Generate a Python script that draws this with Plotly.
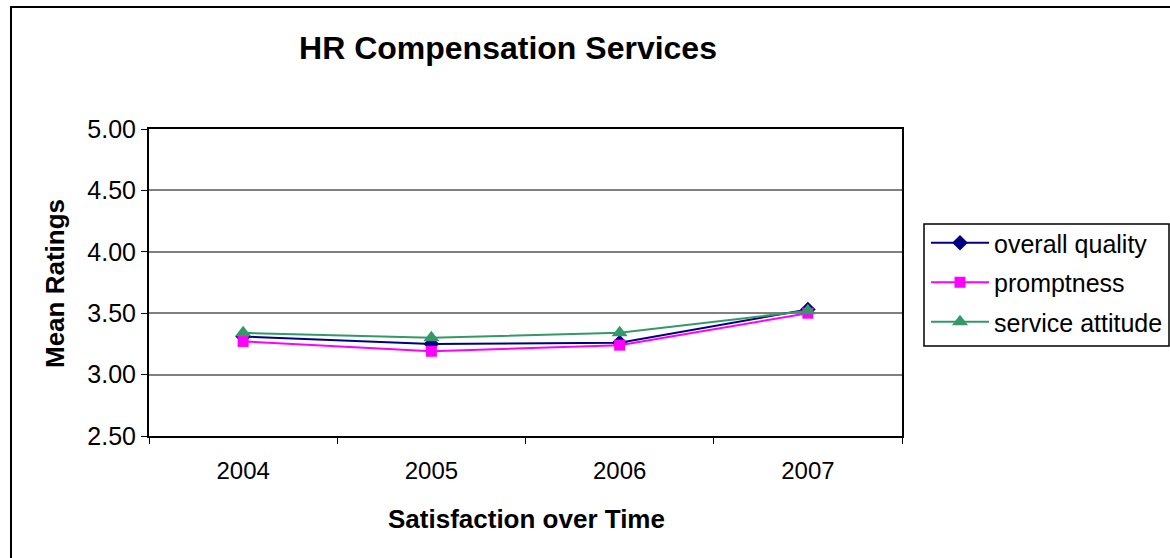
import plotly.graph_objects as go

years = ["2004", "2005", "2006", "2007"]
overall_quality = [3.31, 3.25, 3.26, 3.53]
promptness = [3.27, 3.19, 3.24, 3.50]
service_attitude = [3.34, 3.30, 3.34, 3.52]
y_ticks = [2.50, 3.00, 3.50, 4.00, 4.50, 5.00]

FONT = "Liberation Sans, Arial, sans-serif"
W, H = 1170, 558
L, R, T, B = 149, 902, 129, 436  # plot area in pixels
PW = W - L  # paper width (right margin is zero, legend sits inside paper)
ph = B - T


def px_x(x):
    return (x - L) / PW


def px_y(y):
    return (B - y) / ph


series = [
    ("overall quality", overall_quality, "#000080", "diamond", 12),
    ("promptness", promptness, "#FF00FF", "square", 11),
    ("service attitude", service_attitude, "#339966", "triangle-up", 14),
]

fig = go.Figure()
for name, vals, color, symbol, size in series:
    fig.add_trace(go.Scatter(
        x=years, y=vals, name=name, mode="lines+markers",
        legendgroup=name,
        line=dict(color=color, width=2),
        marker=dict(symbol=symbol, size=size, color=color),
    ))

fig.update_layout(
    width=W, height=H,
    margin=dict(l=L, r=0, t=T, b=H - B),
    paper_bgcolor="white", plot_bgcolor="white",
    font=dict(family=FONT, color="black", size=25),
    showlegend=True,
    legend=dict(
        x=px_x(926), y=px_y(220), xanchor="left", yanchor="top",
        font=dict(size=25, family=FONT), tracegroupgap=4,
        itemwidth=58,
        bgcolor="rgba(0,0,0,0)", borderwidth=0,
    ),
    title=dict(
        text="<b>HR Compensation Services</b>",
        x=px_x(508), xanchor="center", xref="paper",
        y=1 - 48 / H, yanchor="middle",
        font=dict(size=32, family=FONT),
    ),
    xaxis=dict(
        domain=[0, px_x(R)],
        type="category", tickson="boundaries", range=[-0.5, 3.5],
        ticks="outside", ticklen=6, tickwidth=1, tickcolor="black",
        ticklabelstandoff=12,
        showline=True, linecolor="black", linewidth=2, mirror=True,
        showgrid=False, tickfont=dict(size=24),
    ),
    yaxis=dict(
        range=[2.5, 5.0], tickvals=y_ticks,
        ticktext=[f"{v:.2f}" for v in y_ticks],
        ticks="outside", ticklen=6, tickwidth=1, tickcolor="black",
        showline=True, linecolor="black", linewidth=2, mirror=True,
        showgrid=True, gridcolor="#808080", gridwidth=1.5,
        zeroline=False, tickfont=dict(size=25),
    ),
    shapes=[
        # chart border
        dict(type="rect", xref="paper", yref="paper",
             x0=px_x(11), x1=px_x(1200), y0=px_y(600), y1=px_y(7),
             line=dict(color="black", width=2), fillcolor="rgba(0,0,0,0)",
             layer="below"),
        # legend box
        dict(type="rect", xref="paper", yref="paper",
             x0=px_x(924), x1=px_x(1169), y0=px_y(346), y1=px_y(224),
             line=dict(color="black", width=1.5), fillcolor="rgba(0,0,0,0)"),
    ],
    annotations=[
        dict(text="<b>Satisfaction over Time</b>", xref="paper", yref="paper",
             x=px_x(526), y=px_y(519), xanchor="center", yanchor="middle",
             showarrow=False, font=dict(size=26, family=FONT)),
        dict(text="<b>Mean Ratings</b>", xref="paper", yref="paper",
             x=px_x(55), y=px_y(284), xanchor="center", yanchor="middle",
             textangle=-90, showarrow=False, font=dict(size=26, family=FONT)),
    ],
)

fig.write_html("out.html")
